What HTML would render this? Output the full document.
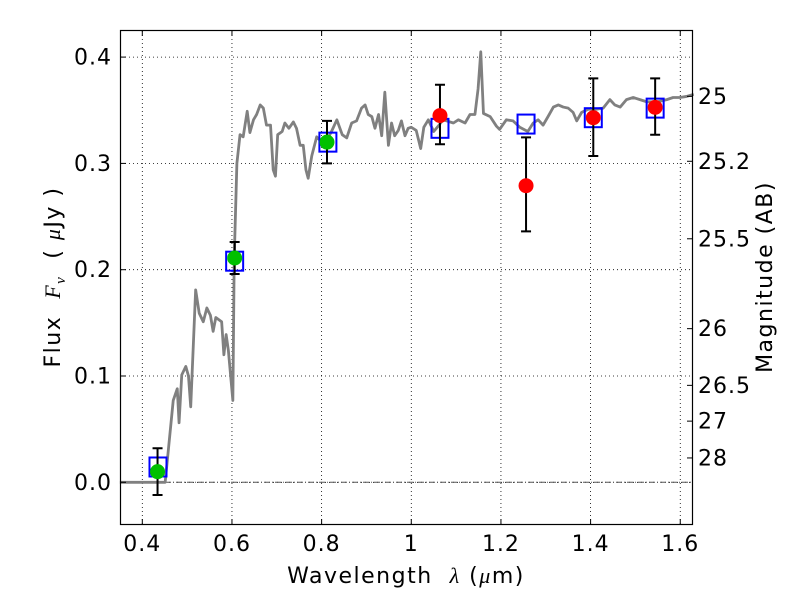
<!DOCTYPE html>
<html><head><meta charset="utf-8"><style>
body{margin:0;background:#fff}
svg text{font-family:"DejaVu Sans","Liberation Sans",sans-serif;fill:#000}
</style></head><body>
<svg id="chart" width="800" height="600" viewBox="0 0 800 600" xmlns="http://www.w3.org/2000/svg">
<rect width="800" height="600" fill="#fff"/>
<g id="grid"></g>
<g id="series"></g>
<rect x="120.5" y="30.5" width="572" height="494" fill="none" stroke="#000" stroke-width="1.2"/>
<g id="axes"></g>
<text x="406" y="583" font-size="22" letter-spacing="1.5" text-anchor="middle">Wavelength&#160;&#160;<tspan font-family="Liberation Serif" font-style="italic">λ</tspan> (<tspan font-family="Liberation Serif" font-style="italic">μ</tspan>m)</text>
<text transform="translate(60,277) rotate(-90)" font-size="22" letter-spacing="1.5" text-anchor="middle">Flux&#160;&#160;<tspan font-family="Liberation Serif" font-style="italic">F<tspan font-size="15" dy="5">ν</tspan></tspan><tspan dy="-5">&#160;&#160;(&#160;</tspan><tspan font-family="Liberation Serif" font-style="italic">μ</tspan>Jy )</text>
<text transform="translate(772,277) rotate(-90)" font-size="22" letter-spacing="1.5" text-anchor="middle">Magnitude (AB)</text>
</svg>
<script>
const xTicks=[0.4,0.6,0.8,1.0,1.2,1.4,1.6];
const xTickLabels=["0.4","0.6","0.8","1","1.2","1.4","1.6"];
const yTicks=[0,0.1,0.2,0.3,0.4];
const yTickLabels=["0.0","0.1","0.2","0.3","0.4"];
const magTicks=[25,25.2,25.5,26,26.5,27,28];
const magTickLabels=["25","25.2","25.5","26","26.5","27","28"];
const specWave=[0.35,0.451,0.469,0.478,0.482,0.488,0.497,0.503,0.508,0.519,0.527,0.536,0.544,0.552,0.558,0.564,0.577,0.582,0.587,0.592,0.602,0.605,0.611,0.618,0.625,0.634,0.64,0.648,0.655,0.663,0.67,0.677,0.686,0.692,0.697,0.702,0.712,0.718,0.727,0.737,0.744,0.752,0.759,0.765,0.77,0.778,0.789,0.80,0.812,0.822,0.834,0.846,0.856,0.867,0.878,0.889,0.897,0.904,0.912,0.919,0.927,0.934,0.941,0.949,0.956,0.963,0.971,0.978,0.986,0.993,1.0,1.011,1.021,1.028,1.038,1.05,1.06,1.071,1.094,1.105,1.12,1.131,1.142,1.149,1.155,1.161,1.176,1.19,1.197,1.212,1.227,1.242,1.26,1.272,1.283,1.294,1.305,1.317,1.328,1.339,1.35,1.361,1.369,1.38,1.395,1.413,1.428,1.443,1.454,1.466,1.48,1.495,1.51,1.525,1.55,1.57,1.584,1.599,1.614,1.63];
const specFlux=[0,0,0.077,0.088,0.056,0.101,0.109,0.10,0.071,0.181,0.159,0.151,0.164,0.157,0.142,0.155,0.151,0.12,0.139,0.124,0.077,0.21,0.30,0.327,0.325,0.349,0.329,0.341,0.346,0.355,0.352,0.336,0.336,0.294,0.288,0.327,0.33,0.338,0.333,0.339,0.333,0.317,0.317,0.294,0.286,0.307,0.325,0.32,0.322,0.33,0.341,0.327,0.324,0.338,0.34,0.352,0.355,0.346,0.344,0.333,0.346,0.326,0.367,0.317,0.338,0.326,0.331,0.34,0.326,0.333,0.334,0.331,0.314,0.334,0.341,0.33,0.335,0.341,0.338,0.341,0.338,0.346,0.346,0.37,0.405,0.347,0.344,0.335,0.332,0.341,0.34,0.334,0.33,0.338,0.341,0.336,0.344,0.353,0.355,0.353,0.352,0.348,0.34,0.348,0.351,0.351,0.352,0.36,0.355,0.353,0.36,0.362,0.36,0.358,0.358,0.36,0.362,0.362,0.363,0.365];
const modelWave=[0.435,0.606,0.814,1.064,1.256,1.406,1.544];
const modelFlux=[0.0144,0.208,0.320,0.333,0.337,0.343,0.352];
const greenWave=[0.434,0.606,0.812];
const greenFlux=[0.010,0.211,0.320];
const greenLo=[-0.012,0.196,0.300];
const greenHi=[0.032,0.226,0.340];
const redWave=[1.064,1.256,1.406,1.544];
const redFlux=[0.345,0.279,0.343,0.3527];
const redLo=[0.318,0.236,0.307,0.327];
const redHi=[0.374,0.3245,0.380,0.380];

const NS="http://www.w3.org/2000/svg";
const X=v=>142.3+(v-0.4)*448.3;
const Y=v=>482.3-v*1063;
const M=m=>Y(Math.pow(10,(23.9-m)/2.5));
function mk(tag,attrs,parent){const e=document.createElementNS(NS,tag);for(const k in attrs)e.setAttribute(k,attrs[k]);document.getElementById(parent).appendChild(e);return e;}

xTicks.forEach((t,i)=>{
  const g=mk('line',{x1:X(t),x2:X(t),y1:31,y2:524,stroke:'#000','stroke-width':0.8,'stroke-dasharray':'1,3'},'grid');
  
  
  const a=mk('path',{d:`M${X(t)},524v-5M${X(t)},31v5`,stroke:'#000','stroke-width':1},'axes');
  
  
  const l=mk('text',{x:X(t),y:551,'font-size':22,'letter-spacing':1,'text-anchor':'middle'},'axes');
  l.textContent=xTickLabels[i];
  
  
});
yTicks.forEach((t,i)=>{
  const g=mk('line',{x1:121,x2:692,y1:Y(t),y2:Y(t),stroke:'#000','stroke-width':0.8,'stroke-dasharray':'1,3'},'grid');
  
  
  const a=mk('path',{d:`M121,${Y(t)}h5`,stroke:'#000','stroke-width':1},'axes');
  
  
  const l=mk('text',{x:112,y:Y(t)+7.5,'font-size':22,'letter-spacing':1,'text-anchor':'end'},'axes');
  l.textContent=yTickLabels[i];
  
  
});
const zl=mk('line',{x1:121,x2:692,y1:Y(0),y2:Y(0),stroke:'#555','stroke-width':1,'stroke-dasharray':'6,2,1,2'},'grid');


magTicks.forEach((m,i)=>{
  const a=mk('path',{d:`M692,${M(m)}h-5`,stroke:'#000','stroke-width':1},'axes');
  
  
  const l=mk('text',{x:698,y:M(m)+7.5,'font-size':22,'letter-spacing':1},'axes');
  l.textContent=magTickLabels[i];
  
  
});
const sp=mk('polyline',{points:specWave.map((w,i)=>X(w)+','+Y(specFlux[i])).join(' '),fill:'none',stroke:'#808080','stroke-width':2.8,'stroke-linejoin':'round'},'series');


modelWave.forEach((w,i)=>{
  const r=mk('rect',{x:X(w)-8.5,y:Y(modelFlux[i])-9.5,width:17,height:19,fill:'none',stroke:'#0000ff','stroke-width':2},'series');
  
  
});
function pts(ws,fs,lo,hi,col,name){
  ws.forEach((w,i)=>{
    const e=mk('path',{d:`M${X(w)},${Y(lo[i])}V${Y(hi[i])}M${X(w)-5},${Y(lo[i])}h10M${X(w)-5},${Y(hi[i])}h10`,stroke:'#000','stroke-width':2},'series');
    
    
    const c=mk('circle',{cx:X(w),cy:Y(fs[i]),r:7.5,fill:col},'series');
    
    
  });
}
pts(greenWave,greenFlux,greenLo,greenHi,'#00c000','observed-point-green');
pts(redWave,redFlux,redLo,redHi,'#ff0000','observed-point-red');
</script>
</body></html>
